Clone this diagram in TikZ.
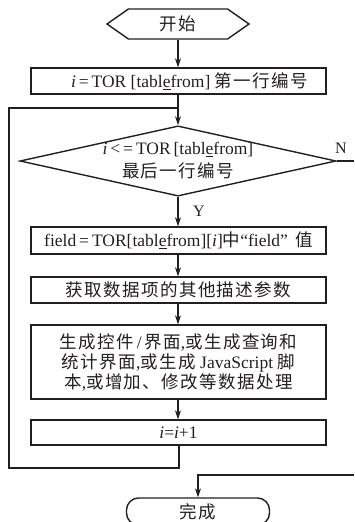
\documentclass[tikz,border=0pt]{standalone}
\usepackage{fontspec}
\setmainfont{Liberation Serif}
\newfontfamily\cjk[LetterSpace=8]{Noto Sans CJK SC}
\usetikzlibrary{arrows.meta,shapes.geometric,shapes.symbols}
\definecolor{ink}{HTML}{231F20}
\tikzset{
  every node/.style={font=\fontsize{17.5}{20}\selectfont, text=ink},
  procbox/.style={draw=ink, line width=1.4pt, rectangle, minimum width=295pt, inner sep=0pt, align=center},
  conn/.style={draw=ink, line width=1.2pt},
  arr/.style={conn, -{Stealth[length=9pt,width=6pt]}},
  lbl/.style={font=\fontsize{16}{18}\selectfont}
}
\begin{document}
\begin{tikzpicture}[x=1pt,y=-1pt]
\useasboundingbox (0,0) rectangle (354,522);
\clip (0,0) rectangle (354,522);
\node[signal, signal to=east and west, signal pointer angle=70, draw=ink, line width=1.4pt,
      minimum width=142pt, minimum height=30pt, inner sep=0pt] (start) at (178,24) {\cjk 开始};
\node[procbox, minimum height=26pt] (b1) at (178.5,81)
  {\hspace*{22pt}\textit{i}\,=\,TOR [tabl\underline{e}from] {\cjk 第一行编号}};
\node[diamond, draw=ink, line width=1.4pt, minimum width=310pt, minimum height=68pt,
      inner sep=0pt, aspect=4.5, align=center] (dec) at (178,161)
  {\textit{i}\,<\,=\,TOR\,[tabl\underline{e}from]\\[3pt] {\cjk 最后一行编号}};
\node[procbox, minimum height=27pt] (b2) at (178.5,240.5)
  {field\,=\,TOR[tabl\underline{e}from][\textit{i}]{\cjk 中}“field”\, {\cjk 值}};
\node[procbox, minimum height=26pt] (b3) at (178.5,290) {\cjk 获取数据项的其他描述参数};
\node[procbox, minimum height=74pt] (b4) at (178.5,362)
  {{\cjk 生成控件}\,/\,{\cjk 界面},{\cjk 或生成查询和}\\
   {\cjk 统计界面},{\cjk 或生成} JavaScript {\cjk 脚}\\
   {\cjk 本},{\cjk 或增加、修改等数据处理}};
\node[procbox, minimum height=25pt] (b5) at (178.5,432.5) {\textit{i}=\textit{i}+1};
\node[draw=ink, line width=1.4pt, rounded corners=12pt, minimum width=143pt, minimum height=27pt,
      inner sep=0pt] (fin) at (198,511.5) {\cjk 完成};
\coordinate (j1) at (179,108);
\coordinate (l1) at (179,468);
\coordinate (l2) at (9,468);
\coordinate (l3) at (9,108);
\coordinate (nout) at (354,161);
\coordinate (nin) at (354,475);
\coordinate (nturn) at (198,475);
\draw[arr] (start.south) -- (b1.north -| start.south);
\draw[arr] (b1.south -| dec.north) -- (dec.north);
\draw[conn] (b5.south -| l1) -- (l1) -- (l2) -- (l3) -- (j1);
\draw[arr] (dec.south) -- (b2.north -| dec.south);
\node[lbl] (ylab) at (199,211) {Y};
\draw[arr] (b2.south -| dec.south) -- (b3.north -| dec.south);
\draw[arr] (b3.south -| dec.south) -- (b4.north -| dec.south);
\draw[arr] (b4.south -| dec.south) -- (b5.north -| dec.south);
\draw[conn] (dec.east) -- (nout);
\node[lbl] (nlab) at (341,148) {N};
\draw[arr] (nin) -- (nturn) -- (fin.north -| nturn);
\end{tikzpicture}
\end{document}
